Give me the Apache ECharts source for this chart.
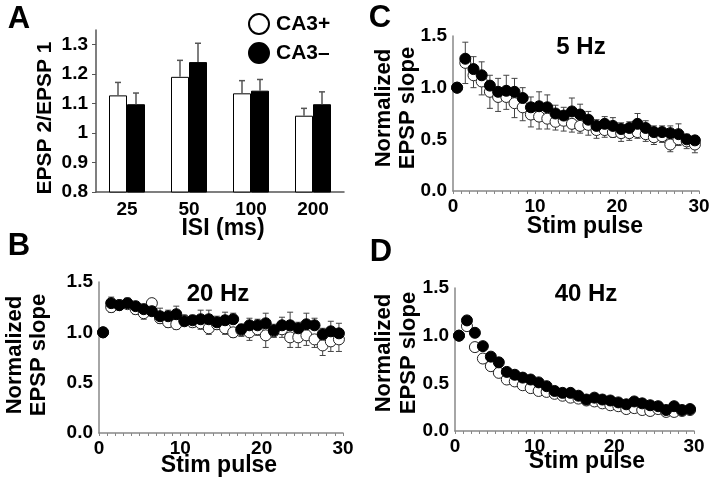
<!DOCTYPE html>
<html>
<head>
<meta charset="utf-8">
<script src="https://cdn.jsdelivr.net/npm/echarts@6/dist/echarts.min.js"></script>
<style>
  html, body { margin: 0; padding: 0; background: #fff; }
  #main { width: 711px; height: 486px; }
</style>
</head>
<body>
<div id="main"></div>
<script>
// A: paired-pulse ratio per ISI
var isiLabels = ['25', '50', '100', '200'];
var ppPlus = [1.128, 1.191, 1.135, 1.059];
var ppPlusErr = [0.044, 0.056, 0.043, 0.025];
var ppMinus = [1.098, 1.241, 1.144, 1.098];
var ppMinusErr = [0.038, 0.064, 0.038, 0.042];

// stim pulse positions on the x axis (B, C, D)
var pulseX = [0.5, 1.5, 2.5, 3.5, 4.5, 5.5, 6.5, 7.5, 8.5, 9.5, 10.5, 11.5, 12.5, 13.5, 14.5,
  15.5, 16.5, 17.5, 18.5, 19.5, 20.5, 21.5, 22.5, 23.5, 24.5, 25.5, 26.5, 27.5, 28.5, 29.5];

// B: 20 Hz
var hz20Plus = [1.00, 1.25, 1.27, 1.28, 1.23, 1.19, 1.29, 1.14, 1.10, 1.08, 1.12, 1.10, 1.09, 1.04, 1.08,
  1.04, 1.00, 1.02, 1.00, 1.03, 0.97, 1.01, 1.03, 0.95, 0.95, 0.97, 0.93, 0.87, 0.91, 0.93];
var hz20PlusErr = [0, 0.05, 0.04, 0.04, 0.05, 0.06, 0.05, 0.05, 0.05, 0.05, 0.05, 0.05, 0.06, 0.06, 0.05,
  0.06, 0.05, 0.06, 0.08, 0.06, 0.12, 0.06, 0.08, 0.10, 0.10, 0.10, 0.08, 0.10, 0.10, 0.12];
var hz20Minus = [1.00, 1.29, 1.27, 1.29, 1.26, 1.23, 1.21, 1.16, 1.16, 1.18, 1.11, 1.12, 1.13, 1.13, 1.10,
  1.12, 1.13, 1.03, 1.07, 1.07, 1.09, 1.02, 1.07, 1.07, 1.04, 1.08, 1.07, 0.98, 1.01, 0.99];
var hz20MinusErr = [0, 0.06, 0.05, 0.05, 0.04, 0.05, 0.04, 0.08, 0.06, 0.08, 0.06, 0.05, 0.09, 0.09, 0.06,
  0.08, 0.06, 0.05, 0.07, 0.06, 0.10, 0.06, 0.08, 0.13, 0.06, 0.11, 0.07, 0.06, 0.10, 0.10];

// C: 5 Hz
var hz5Plus = [1.00, 1.24, 1.12, 1.06, 0.96, 0.91, 0.91, 0.85, 0.81, 0.74, 0.72, 0.70, 0.67, 0.68, 0.65,
  0.63, 0.64, 0.59, 0.59, 0.57, 0.56, 0.56, 0.57, 0.55, 0.52, 0.53, 0.45, 0.50, 0.48, 0.45];
var hz5PlusErr = [0, 0.20, 0.12, 0.13, 0.16, 0.14, 0.12, 0.14, 0.13, 0.12, 0.12, 0.10, 0.08, 0.10, 0.08,
  0.07, 0.10, 0.08, 0.07, 0.05, 0.08, 0.07, 0.06, 0.07, 0.07, 0.06, 0.07, 0.06, 0.07, 0.08];
var hz5Minus = [1.00, 1.28, 1.18, 1.12, 1.02, 0.96, 0.97, 0.96, 0.90, 0.81, 0.82, 0.81, 0.75, 0.73, 0.77,
  0.74, 0.69, 0.63, 0.65, 0.63, 0.60, 0.61, 0.65, 0.61, 0.57, 0.57, 0.56, 0.55, 0.50, 0.49];
var hz5MinusErr = [0, 0.16, 0.12, 0.13, 0.10, 0.13, 0.15, 0.13, 0.10, 0.10, 0.14, 0.12, 0.08, 0.08, 0.13,
  0.10, 0.08, 0.06, 0.07, 0.08, 0.06, 0.06, 0.10, 0.07, 0.06, 0.06, 0.07, 0.10, 0.05, 0.04];

// D: 40 Hz
var hz40Plus = [1.00, 1.10, 0.88, 0.76, 0.68, 0.61, 0.54, 0.52, 0.48, 0.45, 0.42, 0.41, 0.39, 0.37, 0.35,
  0.34, 0.32, 0.31, 0.29, 0.27, 0.26, 0.23, 0.24, 0.22, 0.21, 0.23, 0.20, 0.20, 0.21, 0.22];
var hz40Minus = [1.00, 1.16, 1.03, 0.89, 0.78, 0.72, 0.62, 0.59, 0.56, 0.54, 0.51, 0.47, 0.42, 0.40, 0.40,
  0.37, 0.33, 0.35, 0.33, 0.32, 0.30, 0.28, 0.31, 0.29, 0.27, 0.26, 0.22, 0.26, 0.22, 0.23];

var FONT = '"Liberation Sans", Arial, sans-serif';
var chart = echarts.init(document.getElementById('main'));

function pairs(xs, ys) {
  return xs.map(function (x, i) { return [x, ys[i]]; });
}

// vertical error bar, dir = 1 up, -1 down
function errSeries(idx, xs, ys, errs, dir, z) {
  return {
    type: 'custom',
    xAxisIndex: idx,
    yAxisIndex: idx,
    z: z,
    silent: true,
    data: xs.map(function (x, i) { return [x, ys[i], errs[i]]; }),
    renderItem: function (params, api) {
      var p0 = api.coord([api.value(0), api.value(1)]);
      var p1 = api.coord([api.value(0), api.value(1) + dir * api.value(2)]);
      var st = { stroke: '#444', lineWidth: 1 };
      return {
        type: 'group',
        children: [
          { type: 'line', shape: { x1: p0[0], y1: p0[1], x2: p1[0], y2: p1[1] }, style: st },
          { type: 'line', shape: { x1: p1[0] - 3, y1: p1[1], x2: p1[0] + 3, y2: p1[1] }, style: st }
        ]
      };
    }
  };
}

function dots(idx, xs, ys, filled, z) {
  return {
    type: 'scatter',
    xAxisIndex: idx,
    yAxisIndex: idx,
    z: z,
    symbol: 'circle',
    symbolSize: 11,
    data: pairs(xs, ys),
    itemStyle: filled
      ? { color: '#000', borderColor: '#000', borderWidth: 1, opacity: 1 }
      : { color: '#fff', borderColor: '#222', borderWidth: 1, opacity: 1 }
  };
}

// bar error bars for panel A
function barErr(vals, errs, off) {
  return {
    type: 'custom',
    xAxisIndex: 0,
    yAxisIndex: 0,
    z: 5,
    silent: true,
    data: vals.map(function (v, i) { return [i, v, errs[i]]; }),
    renderItem: function (params, api) {
      var p0 = api.coord([api.value(0), api.value(1)]);
      var p1 = api.coord([api.value(0), api.value(1) + api.value(2)]);
      var x = p0[0] + off;
      var st = { stroke: '#555', lineWidth: 1.5 };
      return {
        type: 'group',
        children: [
          { type: 'line', shape: { x1: x, y1: p0[1], x2: x, y2: p1[1] }, style: st },
          { type: 'line', shape: { x1: x - 3, y1: p1[1], x2: x + 3, y2: p1[1] }, style: st }
        ]
      };
    }
  };
}

function stimX(idx) {
  return {
    gridIndex: idx, type: 'value', min: 0, max: 30, interval: 10,
    axisLine: { show: true, lineStyle: { color: '#888', width: 1.5 } },
    axisTick: { show: true, length: 3, lineStyle: { color: '#888' } },
    minorTick: { show: true, splitNumber: 10, length: 3, lineStyle: { color: '#888' } },
    splitLine: { show: false },
    axisLabel: { color: '#000', fontSize: 19, fontWeight: 'bold', fontFamily: FONT, margin: 6 }
  };
}

function normY(idx) {
  return {
    gridIndex: idx, type: 'value', min: 0, max: 1.5, interval: 0.5,
    axisLine: { show: true, lineStyle: { color: '#888', width: 1.5 } },
    axisTick: { show: false },
    splitLine: { show: false },
    axisLabel: {
      color: '#000', fontSize: 19, fontWeight: 'bold', fontFamily: FONT, margin: 6,
      formatter: function (v) { return v.toFixed(1); }
    }
  };
}

function txt(x, y, s, size, rot) {
  return {
    type: 'text', x: x, y: y, rotation: rot || 0,
    style: {
      text: s, fill: '#000', font: 'bold ' + size + 'px ' + FONT,
      align: 'center', verticalAlign: 'middle'
    }
  };
}

var option = {
  backgroundColor: '#fff',
  animation: false,
  grid: [
    { left: 96, top: 30, width: 248, height: 162, outerBoundsMode: 'none' },
    { left: 99, top: 282, width: 244, height: 151, outerBoundsMode: 'none' },
    { left: 453, top: 36, width: 246, height: 155, outerBoundsMode: 'none' },
    { left: 455, top: 288, width: 239, height: 143, outerBoundsMode: 'none' }
  ],
  legend: {
    data: ['CA3+', 'CA3\u2013'],
    orient: 'vertical',
    left: 243, top: 8,
    itemWidth: 20, itemHeight: 20, itemGap: 7,
    icon: 'circle',
    textStyle: { color: '#000', fontSize: 21, fontWeight: 'bold', fontFamily: FONT, padding: [0, 0, 0, 2] }
  },
  xAxis: [
    {
      gridIndex: 0, type: 'category', data: isiLabels,
      axisLine: { show: true, lineStyle: { color: '#555', width: 1.5 } },
      axisTick: { show: false },
      axisLabel: { color: '#000', fontSize: 19, fontWeight: 'bold', fontFamily: FONT, margin: 8 }
    },
    stimX(1), stimX(2), stimX(3)
  ],
  yAxis: [
    {
      gridIndex: 0, type: 'value', min: 0.8, max: 1.35,
      axisLine: { show: true, lineStyle: { color: '#555', width: 1.5 } },
      axisTick: { show: true, length: 4, lineStyle: { color: '#555' }, customValues: [0.8, 0.9, 1, 1.1, 1.2, 1.3] },
      splitLine: { show: false },
      axisLabel: {
        color: '#000', fontSize: 19, fontWeight: 'bold', fontFamily: FONT, margin: 8,
        customValues: [0.8, 0.9, 1, 1.1, 1.2, 1.3]
      }
    },
    normY(1), normY(2), normY(3)
  ],
  series: [
    {
      name: 'CA3+', type: 'bar', xAxisIndex: 0, yAxisIndex: 0,
      data: ppPlus, barWidth: 18, barGap: '0%', z: 2,
      itemStyle: { color: '#fff', borderColor: '#000', borderWidth: 1 }
    },
    {
      name: 'CA3\u2013', type: 'bar', xAxisIndex: 0, yAxisIndex: 0,
      data: ppMinus, barWidth: 18, barGap: '0%', z: 2,
      itemStyle: { color: '#000', borderColor: '#000', borderWidth: 1 }
    },
    barErr(ppPlus, ppPlusErr, -9),
    barErr(ppMinus, ppMinusErr, 9),

    errSeries(1, pulseX, hz20Plus, hz20PlusErr, -1, 3),
    dots(1, pulseX, hz20Plus, false, 4),
    errSeries(1, pulseX, hz20Minus, hz20MinusErr, 1, 5),
    dots(1, pulseX, hz20Minus, true, 6),

    errSeries(2, pulseX, hz5Plus, hz5PlusErr, -1, 3),
    dots(2, pulseX, hz5Plus, false, 4),
    errSeries(2, pulseX, hz5Minus, hz5MinusErr, 1, 5),
    dots(2, pulseX, hz5Minus, true, 6),

    dots(3, pulseX, hz40Plus, false, 4),
    dots(3, pulseX, hz40Minus, true, 6)
  ],
  graphic: [
    txt(19, 19, 'A', 31),
    txt(19, 246, 'B', 31),
    txt(380, 18, 'C', 31),
    txt(381, 252, 'D', 31),

    txt(45, 118, 'EPSP 2/EPSP 1', 21, Math.PI / 2),
    txt(223, 229, 'ISI (ms)', 23),

    txt(581, 47, '5 Hz', 24),
    txt(384, 108, 'Normalized', 22, Math.PI / 2),
    txt(408, 108, 'EPSP slope', 22, Math.PI / 2),
    txt(585, 227, 'Stim pulse', 23),

    txt(218, 294, '20 Hz', 24),
    txt(15, 355, 'Normalized', 22, Math.PI / 2),
    txt(39, 355, 'EPSP slope', 22, Math.PI / 2),
    txt(219, 466, 'Stim pulse', 23),

    txt(586, 294, '40 Hz', 24),
    txt(384, 353, 'Normalized', 22, Math.PI / 2),
    txt(409, 353, 'EPSP slope', 22, Math.PI / 2),
    txt(587, 462, 'Stim pulse', 23)
  ]
};

chart.setOption(option);
</script>
</body>
</html>
